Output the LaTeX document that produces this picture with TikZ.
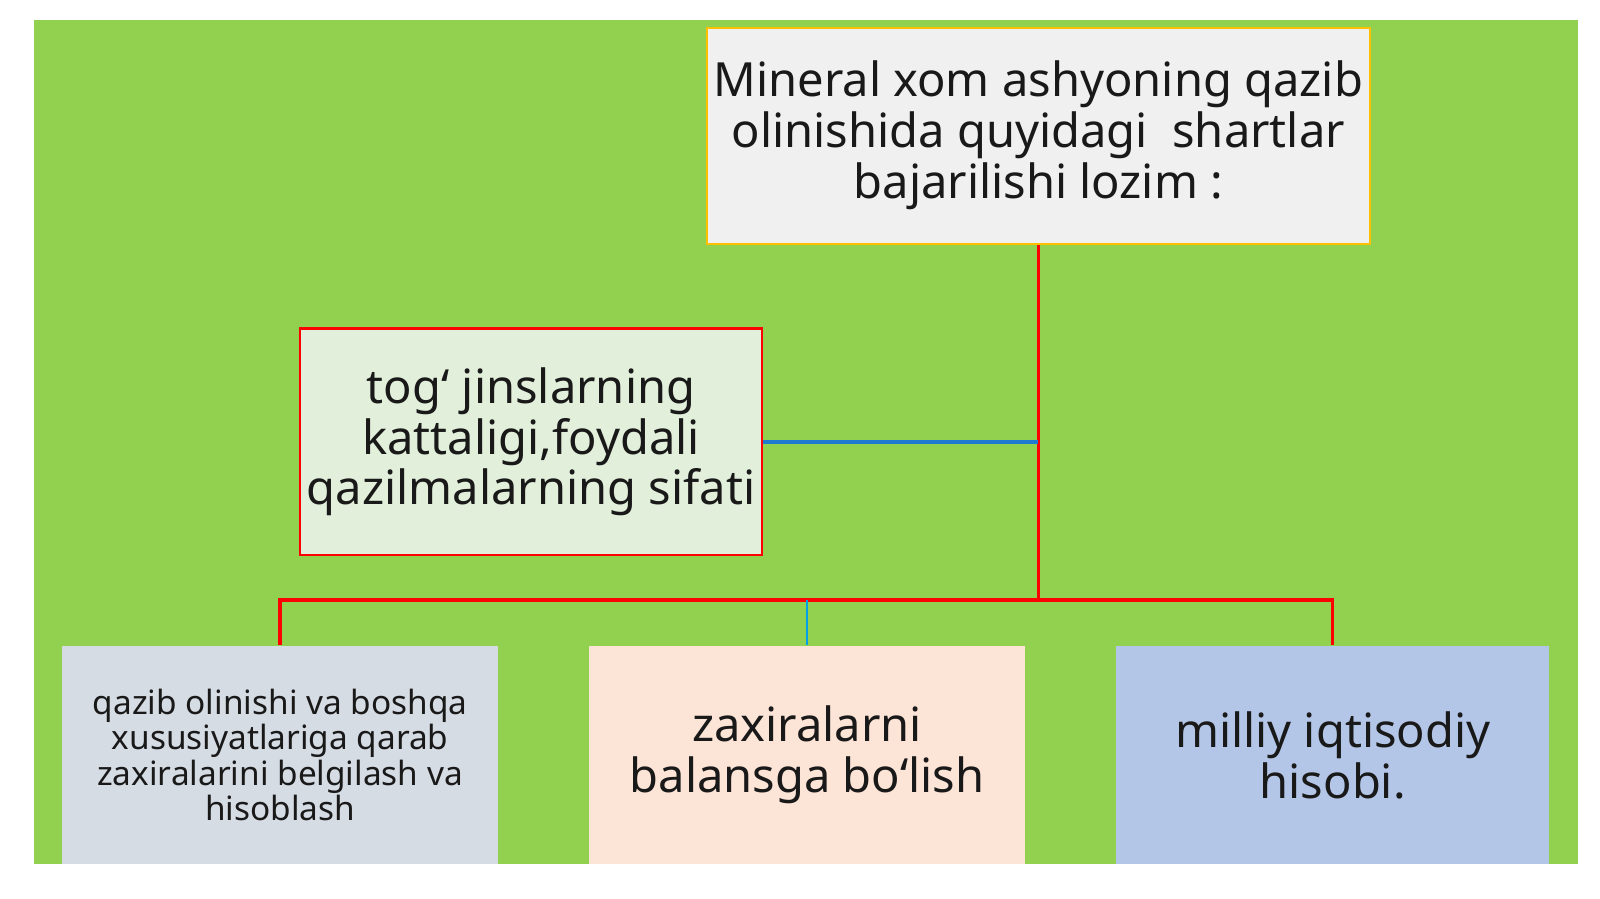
\documentclass[tikz,border=0pt]{standalone}
\usepackage{fontspec}
\setmainfont{Noto Sans}
\usetikzlibrary{calc}
\definecolor{slidegreen}{HTML}{92D050}
\definecolor{topfill}{HTML}{F0F0F0}
\definecolor{topline}{HTML}{FFC000}
\definecolor{midfill}{HTML}{E2EFDA}
\definecolor{leftfill}{HTML}{D6DCE4}
\definecolor{centrefill}{HTML}{FCE4D6}
\definecolor{rightfill}{HTML}{B4C6E7}
\definecolor{linkblue}{HTML}{1F7BD0}
\definecolor{tickblue}{HTML}{00A0E8}
\begin{document}
\begin{tikzpicture}[
    box/.style={rectangle,inner sep=2pt,align=center,text=black!90,
        font=\fontsize{13.4}{14.5}\selectfont},
    redline/.style={line width=1pt,red},
    blueline/.style={line width=1pt,linkblue}
]
    \useasboundingbox (0,0) rectangle (16,8.99);
    \fill[white] (0,0) rectangle (16,8.99);
    \fill[slidegreen] (0.337,0.35) rectangle (15.78,8.786);

    \node[box,fill=topfill,draw=topline,line width=0.6pt,minimum width=6.56cm,minimum height=2.16cm] (top) at (10.383,7.633)
        {Mineral xom ashyoning qazib\\olinishida quyidagi\ \ shartlar\\bajarilishi lozim :};
    \node[box,fill=midfill,draw=red,line width=0.6pt,minimum width=4.60cm,minimum height=2.265cm] (mid) at (5.311,4.572)
        {tog‘ jinslarning\\kattaligi,foydali\\qazilmalarning sifati};
    \node[box,fill=leftfill,minimum width=4.357cm,minimum height=2.184cm,font=\fontsize{9.5}{10.1}\selectfont] (left) at (2.801,1.439)
        {qazib olinishi va boshqa\\xususiyatlariga qarab\\zaxiralarini belgilash va\\hisoblash};
    \node[box,fill=centrefill,minimum width=4.367cm,minimum height=2.184cm] (centre) at (8.071,1.439)
        {zaxiralarni\\balansga bo‘lish};
    \node[box,fill=rightfill,minimum width=4.327cm,minimum height=2.184cm] (right) at (13.327,1.439)
        {milliy iqtisodiy\\hisobi.};

    \coordinate (bus) at (0,2.99);
    \draw[redline] (top.south) -- (top.south |- bus);
    \draw[redline] (left.north) |- (bus -| right.north) -- (right.north);
    \draw[blueline] (mid.east) -- (mid.east -| top.south);
    \draw[line width=0.6pt,tickblue] (centre.north) -- (centre.north |- bus);
\end{tikzpicture}
\end{document}
